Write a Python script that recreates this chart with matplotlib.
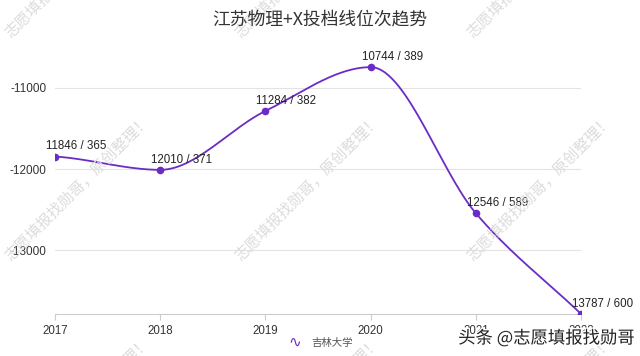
import numpy as np
import matplotlib.pyplot as plt
import matplotlib.patheffects as pe

plt.rcParams['font.family'] = ['Noto Sans CJK SC', 'DejaVu Sans']

years = [2017, 2018, 2019, 2020, 2021, 2022]
ranks = [11846, 12010, 11284, 10744, 12546, 13787]
scores = [365, 371, 382, 389, 589, 600]
title = "江苏物理+X投档线位次趋势"
series_name = "吉林大学"
yticks = [-11000, -12000, -13000]
watermark = "志愿填报找勋哥，原创整理！"

color = '#6a2cc4'

x = np.array(years, dtype=float)
y = -np.array(ranks, dtype=float)

# smooth curve: cubic hermite, flat tangents at local extrema
n = len(x)
m = np.zeros(n)
for i in range(n):
    if i == 0:
        m[i] = (y[1] - y[0]) / (x[1] - x[0]) * 0.5
    elif i == n - 1:
        m[i] = (y[-1] - y[-2]) / (x[-1] - x[-2])
    else:
        d0 = y[i] - y[i - 1]
        d1 = y[i + 1] - y[i]
        if d0 * d1 <= 0:
            m[i] = 0
        else:
            m[i] = (y[i + 1] - y[i - 1]) / (x[i + 1] - x[i - 1])
xs, ys = [], []
for i in range(n - 1):
    h = x[i + 1] - x[i]
    t = np.linspace(0, 1, 60)
    h00 = 2 * t**3 - 3 * t**2 + 1
    h10 = t**3 - 2 * t**2 + t
    h01 = -2 * t**3 + 3 * t**2
    h11 = t**3 - t**2
    xs.extend(x[i] + t * h)
    ys.extend(h00 * y[i] + h10 * h * m[i] + h01 * y[i + 1] + h11 * h * m[i + 1])

fig = plt.figure(figsize=(6.4, 3.56), dpi=100)
ax = fig.add_axes([0.086, 0.118, 0.822, 0.749])

# watermarks (behind everything)
for cx in [78, 308, 540]:
    for cy in [-35, 188, 410]:
        fig.text(cx / 640, 1 - cy / 356, watermark, rotation=45, ha='center', va='center',
                 fontsize=11, color='#dcdcdc', zorder=0)

ax.set_facecolor('none')
ax.plot(xs, ys, color=color, lw=1.3, zorder=3)
ax.scatter(x, y, color=color, s=20, zorder=4)
for xi, r, s in zip(x, ranks, scores):
    ax.annotate(f"{r} / {s}", (xi, -r), xytext=(-6.5, 3),
                textcoords='offset points', ha='left', va='bottom',
                fontsize=8.3, color='#222222', family='Liberation Sans', zorder=5,
                annotation_clip=False)

ax.set_xlim(2017, 2022)
ax.set_ylim(-13787, -10500)
ax.set_xticks(years)
ax.set_xticklabels([str(v) for v in years], fontsize=8.3, color='#333333',
                   family='Liberation Sans')
ax.set_yticks(yticks)
ax.set_yticklabels([str(v) for v in yticks], fontsize=8.5, color='#333333',
                   family='Liberation Sans')
ax.tick_params(axis='y', length=0, pad=6)
ax.tick_params(axis='x', length=4, color='#cccccc', pad=4)
ax.grid(axis='y', color='#e3e3e3', lw=0.8)
for sp in ['top', 'right', 'left']:
    ax.spines[sp].set_visible(False)
ax.spines['bottom'].set_color('#cccccc')

fig.text(0.5, 0.945, title, ha='center', va='center', fontsize=12.8, color='#333333')

# legend
fig.text(0.461, 0.037, "∿", ha='center', va='center', fontsize=11, color=color,
         family=['DejaVu Sans'])
fig.text(0.487, 0.037, series_name, ha='left', va='center', fontsize=7.5, color='#555555')

fig.text(0.992, 0.05, "头条 @志愿填报找勋哥", ha='right', va='center', fontsize=12.5,
         color='#222222', zorder=10,
         path_effects=[pe.withStroke(linewidth=2, foreground='white')])

fig.savefig('out.png', dpi=100)
